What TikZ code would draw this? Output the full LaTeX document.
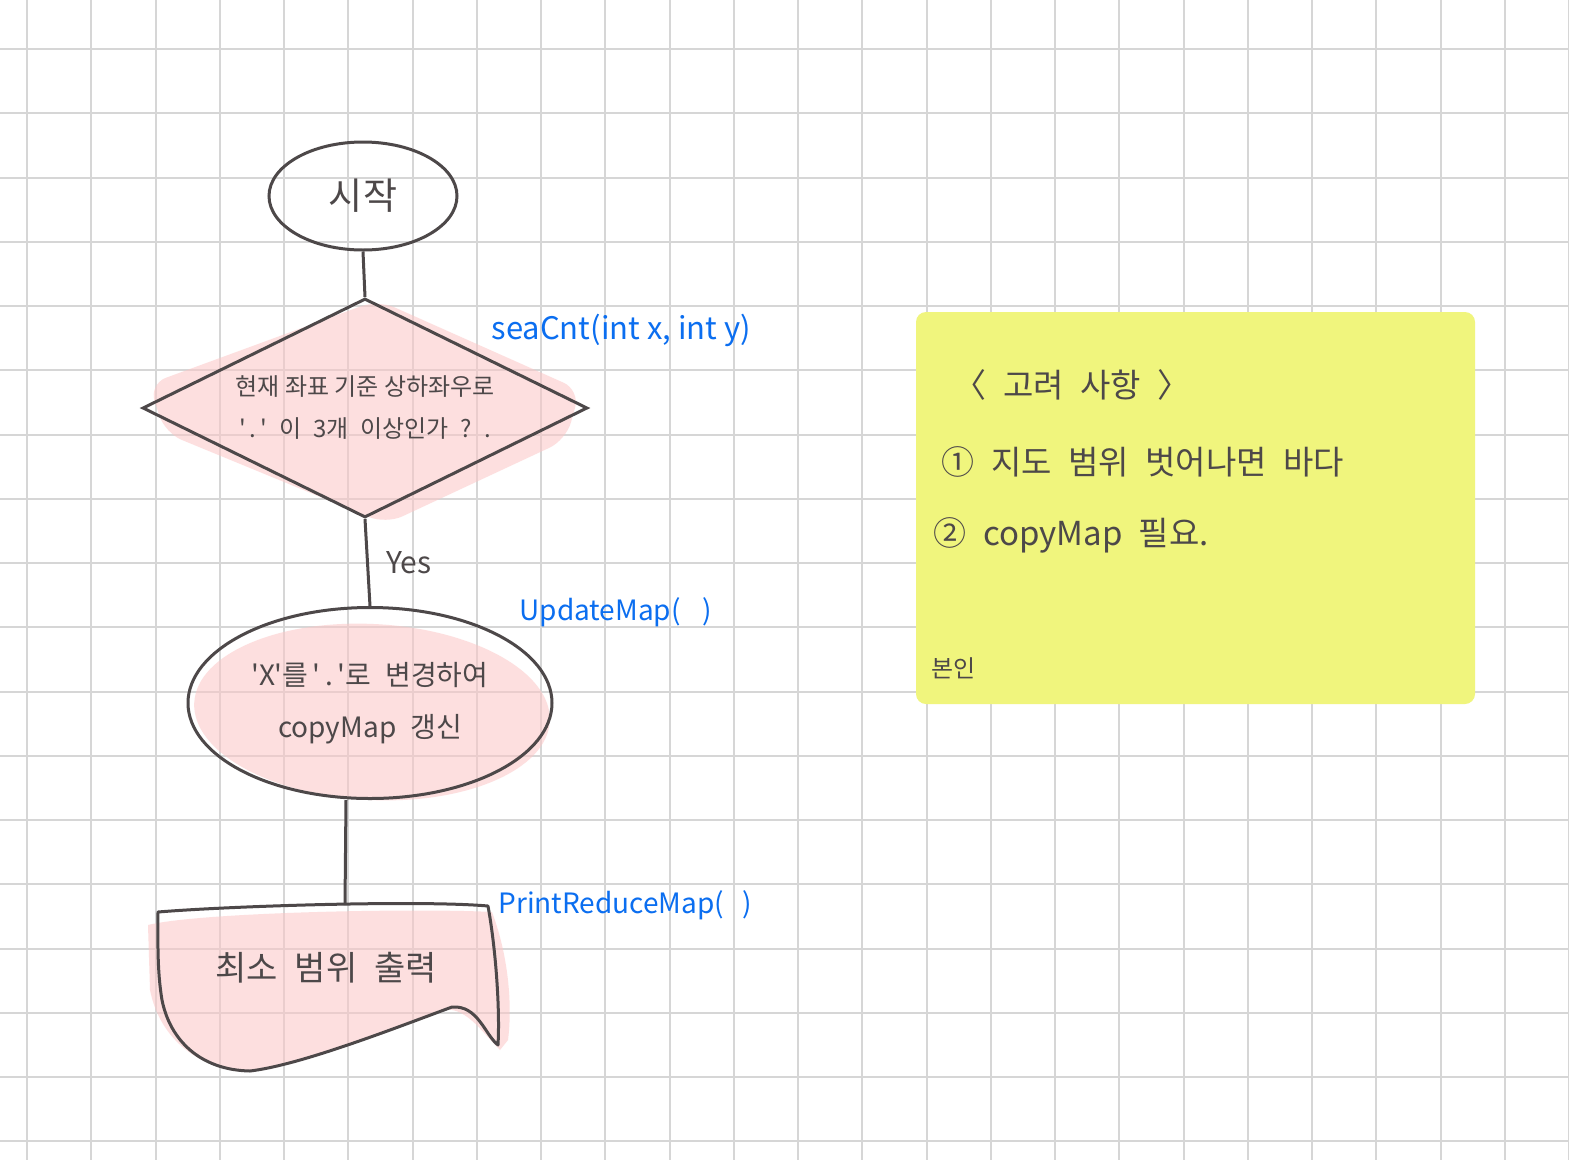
\documentclass[tikz,border=0pt]{standalone}
\usepackage{fontspec}
\newfontfamily\kr{Noto Sans CJK KR}
\usetikzlibrary{shapes.geometric}
\definecolor{ink}{HTML}{4D4849}
\definecolor{gridgray}{HTML}{D6D6D6}
\definecolor{blush}{HTML}{FCC6C6}
\definecolor{memo}{HTML}{F0F57D}
\definecolor{pen}{HTML}{0B6EF0}
\tikzset{
  outline/.style={draw=ink, line width=3pt},
  flowtext/.style={text=ink, font=\kr\fontsize{24}{42}\selectfont, align=center},
  bigtext/.style={text=ink, font=\kr\fontsize{34}{40}\selectfont, align=center},
  bluenote/.style={text=pen, font=\kr\fontsize{28}{30}\selectfont, anchor=west},
  memotext/.style={text=ink, font=\kr\fontsize{33}{36}\selectfont, anchor=west},
  yesnote/.style={text=ink, font=\kr\fontsize{30}{30}\selectfont},
}

\begin{document}
\begin{tikzpicture}[x=1pt,y=-1pt]
    \useasboundingbox (0,0) rectangle (1569,1160);
    \fill[white] (0,0) rectangle (1569,1160);
    % grid paper
    \foreach \i in {0,...,24}
        \draw[gridgray, line width=2pt] (27+64.25*\i,0) -- (27+64.25*\i,1160);
    \foreach \j in {0,...,17}
        \draw[gridgray, line width=2pt] (0,49+64.25*\j) -- (1569,49+64.25*\j);
    % pink highlighter
    \fill[blush, fill opacity=0.55, rounded corners=18pt] (378,300) -- (580,390) -- (566,440) -- (386,524) -- (165,433) -- (149,384) -- cycle;
    \fill[blush, fill opacity=0.55, rotate around={-3:(372,712)}] (372,712) ellipse [x radius=178, y radius=88];
    \fill[blush, fill opacity=0.55] (148,925) .. controls (200,912) and (420,908) .. (492,912) .. controls (510,960) and (512,1010) .. (508,1040) -- (500,1050) .. controls (480,1030) and (465,1005) .. (440,1010) .. controls (380,1035) and (300,1065) .. (250,1072) .. controls (200,1070) and (160,1040) .. (150,990) -- cycle;
    % sticky note
    \fill[memo, rounded corners=10pt] (916,312) rectangle (1475,704);
    % flow
    \node[ellipse, outline, minimum width=188pt, minimum height=108pt, inner sep=0pt, bigtext, font=\kr\fontsize{37}{40}\selectfont] (start) at (363,196) {시작};
    \node[diamond, outline, minimum width=445pt, minimum height=219pt, inner sep=0pt, aspect=2, flowtext] (check) at (365,408) {현재 좌표 기준 상하좌우로\\'\,.\,'\enspace 이\enspace 3개\enspace 이상인가\enspace ?\enspace .};
    \node[ellipse, outline, minimum width=364pt, minimum height=191pt, inner sep=0pt, flowtext, font=\kr\fontsize{28}{52}\selectfont] (update) at (370,703) {'X'를\,'\,.\,'로\enspace 변경하여\\copyMap\enspace 갱신};
    \coordinate (outtop) at (345,905);
    \draw[outline, line join=round] (158,912) .. controls (230,906) and (420,900) .. (488,906) .. controls (496,950) and (500,1010) .. (498,1045) .. controls (485,1035) and (478,1005) .. (452,1007) .. controls (390,1030) and (300,1065) .. (250,1071) .. controls (200,1070) and (170,1040) .. (162,1000) .. controls (157,970) and (158,940) .. (158,912) -- cycle;
    \node[bigtext] (output) at (326,968) {최소\enspace 범위\enspace 출력};
    \draw[outline] (start.south) -- (check.north);
    \draw[outline] (check.south) -- node[right=14pt, yesnote] {Yes} (update.north);
    \draw[outline] ([xshift=-24pt]update.south) -- (outtop);
    % function names
    \node[bluenote, font=\kr\fontsize{31}{30}\selectfont] (seacnt) at (488,330) {seaCnt(int x, int y)};
    \node[bluenote] (updnote) at (516,612) {UpdateMap(\hspace{22pt})};
    \node[bluenote] (prnote) at (495,905) {PrintReduceMap(\hspace{18pt})};
    % sticky note text
    \node[memotext] (memotitle) at (950,385) {〈\enspace 고려\enspace 사항\enspace 〉};
    \node[memotext] (memoone) at (938,462) {①\enspace 지도\enspace 범위\enspace 벗어나면\enspace 바다};
    \node[memotext] (memotwo) at (930,535) {②\enspace copyMap\enspace 필요.};
    \node[anchor=west, text=ink, font=\kr\fontsize{24}{26}\selectfont] (memoauthor) at (928,668) {본인};
\end{tikzpicture}
\end{document}
